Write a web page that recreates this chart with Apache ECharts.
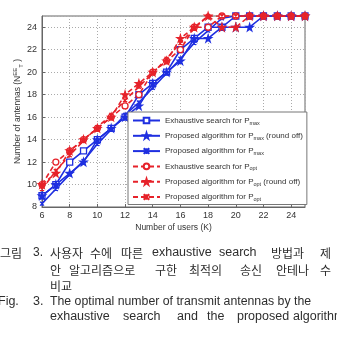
<!DOCTYPE html>
<html>
<head>
<meta charset="utf-8">
<script src="https://cdn.jsdelivr.net/npm/echarts@6/dist/echarts.min.js"></script>
<style>
  html, body { margin: 0; padding: 0; background: #fff; }
  #main { width: 337px; height: 337px; }
</style>
</head>
<body>
<div id="main"></div>
<script>
// users K
var users = [6, 7, 8, 9, 10, 11, 12, 13, 14, 15, 16, 17, 18, 19, 20, 21, 22, 23, 24, 25];
// number of antennas
var exhMax   = [9, 10, 12, 13, 14, 15, 16, 18, 19, 20, 22, 23, 24, 24, 25, 25, 25, 25, 25, 25];
var roundMax = [9, 10, 11, 12, 14, 15, 16, 17, 19, 20, 21, 23, 23, 24, 24, 24, 25, 25, 25, 25];
var propMax  = [8.3, 9.6, 10.9, 12.1, 13.6, 14.9, 16.2, 17.3, 18.6, 19.9, 21.2, 22.6, 23.7, 24.8, 25, 25, 25, 25, 25, 25];
var exhOpt   = [10, 12, 13, 14, 15, 16, 17, 18, 20, 21, 22, 24, 24, 25, 25, 25, 25, 25, 25, 25];
var roundOpt = [10, 11, 13, 14, 15, 16, 18, 19, 20, 21, 23, 24, 25, 24, 24, 25, 25, 25, 25, 25];
var propOpt  = [9.6, 11.2, 12.6, 13.9, 15.1, 16.2, 17.5, 18.7, 19.9, 21.2, 22.6, 23.9, 25, 25, 25, 25, 25, 25, 25, 25];
var names = [
  'Exhaustive search for P{s|max}',
  'Proposed algorithm for P{s|max} (round off)',
  'Proposed algorithm for P{s|max}',
  'Exhaustive search for P{s|opt}',
  'Proposed algorithm for P{s|opt} (round off)',
  'Proposed algorithm for P{s|opt}'
];

var BLUE = '#1f2fe0', RED = '#e6222a';
var STAR = 'path://M50,0L61,35L98,35L68,57L79,91L50,70L21,91L32,57L2,35L39,35Z';
var CROSS = 'path://M0,0L10,10M10,0L0,10M5,0L5,10';

function pairs(ys) {
  return users.map(function (x, i) { return [x, ys[i]]; });
}
function mk(name, ys, color, dashed, symbol, size, filled) {
  return {
    name: name, type: 'line', data: pairs(ys),
    symbol: symbol, symbolSize: size, showSymbol: true,
    lineStyle: {color: color, width: 1.6, type: dashed ? [5, 3] : 'solid'},
    itemStyle: {color: filled ? color : '#fff', borderColor: color, borderWidth: 1.3},
    animation: false
  };
}

var chartDom = document.getElementById('main');
var myChart = echarts.init(chartDom, null, {renderer: 'canvas'});
var font = 'Liberation Sans, Arial, sans-serif';
var kfont = 'Noto Sans CJK KR, sans-serif';

function txt(t, x, y, size, f) {
  return {type: 'text', x: x, y: y, style: {text: t, fill: '#2e2e2e', font: size + 'px ' + (f || kfont), verticalAlign: 'middle'}};
}

var option = {
  backgroundColor: '#fff',
  animation: false,
  grid: {left: 42, right: 32, top: 16, bottom: 130, show: true, borderColor: '#666', borderWidth: 1, outerBoundsMode: 'none'},
  xAxis: {
    type: 'value', min: 6, max: 25, interval: 2,
    name: 'Number of users (K)', nameLocation: 'middle', nameGap: 16, nameMoveOverlap: false,
    nameTextStyle: {fontSize: 8.5, color: '#333', fontFamily: font},
    axisLine: {show: true, lineStyle: {color: '#666'}},
    axisTick: {show: true, inside: true, length: 3, lineStyle: {color: '#666'}},
    axisLabel: {fontSize: 9, color: '#333', margin: 4, fontFamily: font, showMaxLabel: false},
    splitLine: {show: true, lineStyle: {color: '#aaa', type: [1, 2], width: 1}}
  },
  yAxis: {
    type: 'value', min: 8, max: 25, interval: 2,
    name: 'Number of antennas (N{p|EE}{s|T} )', nameLocation: 'middle', nameGap: 18, nameMoveOverlap: false,
    nameTextStyle: {fontSize: 8.5, color: '#333', fontFamily: font,
      rich: {p: {fontSize: 6, verticalAlign: 'top', padding: [0, 0, 6, 0]}, s: {fontSize: 6, padding: [6, 0, 0, 0]}}},
    axisLine: {show: true, lineStyle: {color: '#666'}},
    axisTick: {show: true, inside: true, length: 3, lineStyle: {color: '#666'}},
    axisLabel: {fontSize: 9, color: '#333', margin: 5, fontFamily: font, showMaxLabel: false},
    splitLine: {show: true, lineStyle: {color: '#aaa', type: [1, 2], width: 1}}
  },
  legend: {
    orient: 'vertical', left: 128, top: 112,
    backgroundColor: '#fff', borderColor: '#777', borderWidth: 1,
    padding: [3, 4, 2, 4], itemGap: 4.3, itemWidth: 27, itemHeight: 7,
    textStyle: {fontSize: 8, color: '#333', fontFamily: font, lineHeight: 11,
      rich: {s: {fontSize: 5.5, padding: [5, 0, 0, 0]}}},
    data: names
  },
  series: [
    mk(names[0], exhMax, BLUE, false, 'rect', 6, false),
    mk(names[1], roundMax, BLUE, false, STAR, 7, true),
    mk(names[2], propMax, BLUE, false, CROSS, 4, true),
    mk(names[3], exhOpt, RED, true, 'circle', 6, false),
    mk(names[4], roundOpt, RED, true, STAR, 7, true),
    mk(names[5], propOpt, RED, true, CROSS, 4, true)
  ],
  graphic: [
    txt('그림', 0, 253, 12), txt('3.', 33, 253, 12, font),
    txt('사용자', 50, 253, 12), txt('수에', 90, 253, 12), txt('따른', 121, 253, 12),
    txt('exhaustive', 152, 253, 12.5, font), txt('search', 219, 253, 12.5, font),
    txt('방법과', 271, 253, 12), txt('제', 320, 253, 12),
    txt('안', 50, 270.5, 12), txt('알고리즘으로', 69, 270.5, 12), txt('구한', 155, 270.5, 12),
    txt('최적의', 189, 270.5, 12), txt('송신', 240, 270.5, 12), txt('안테나', 276, 270.5, 12),
    txt('수', 320, 270.5, 12),
    txt('비교', 50, 286, 12),
    txt('Fig.', -2, 301.5, 12.5, font), txt('3.', 33, 301.5, 12.5, font),
    txt('The optimal number of transmit antennas by the', 50, 301.5, 12.3, font),
    txt('exhaustive', 50, 316.5, 12.5, font), txt('search', 123, 316.5, 12.5, font),
    txt('and', 177, 316.5, 12.5, font), txt('the', 207, 316.5, 12.5, font),
    txt('proposed', 237, 316.5, 12.5, font), txt('algorithm', 293, 316.5, 12.5, font)
  ]
};
option && myChart.setOption(option);
</script>
</body>
</html>
